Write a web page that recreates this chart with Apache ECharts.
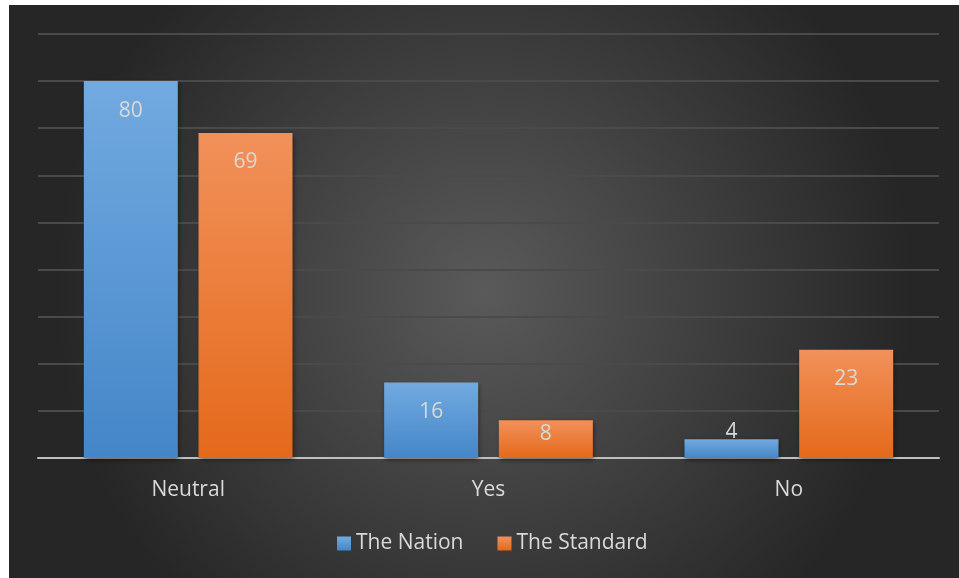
<!DOCTYPE html>
<html>
<head>
<meta charset="utf-8">
<script src="https://cdn.jsdelivr.net/npm/echarts@6/dist/echarts.min.js"></script>
<style>
html,body{margin:0;padding:0;background:#ffffff;width:959px;height:578px;overflow:hidden;}
#chart{position:absolute;left:9px;top:5px;width:950px;height:573px;}
</style>
</head>
<body>
<div id="chart"></div>
<script>
const categories = ['Neutral', 'Yes', 'No'];
const seriesNames = ['The Nation', 'The Standard'];
const nationValues = [80, 16, 4];
const standardValues = [69, 8, 23];

const chart = echarts.init(document.getElementById('chart'));
const fontFam = '"Open Sans", "Noto Sans", sans-serif';

function grad(top, bottom) {
  return new echarts.graphic.LinearGradient(0, 0, 0, 1, [
    {offset: 0, color: top}, {offset: 1, color: bottom}
  ]);
}

function labelFor(values) {
  return values.map(v => {
    let lab = {};
    if (v < 6) lab = {position: 'top', distance: -3};
    else if (v < 12) lab = {position: 'insideTop', distance: 3};
    return {value: v, label: lab};
  });
}

const barCommon = {
  type: 'bar',
  barWidth: '31.3%',
  barGap: '22%',
  label: {
    show: true,
    position: 'insideTop',
    distance: 19,
    color: '#d9d9d9',
    fontSize: 21,
    fontFamily: fontFam
  }
};

chart.setOption({
  backgroundColor: new echarts.graphic.RadialGradient(0.5, 0.5, 0.75, [
    {offset: 0, color: '#5a5a5a'},
    {offset: 1, color: '#262626'}
  ]),
  animation: false,
  grid: {left: 29, right: 20, top: 29, bottom: 120, containLabel: false},
  legend: {
    bottom: 19,
    left: 323,
    icon: 'rect',
    itemWidth: 14,
    itemHeight: 14,
    itemGap: 34,
    textStyle: {color: '#d9d9d9', fontSize: 21, fontFamily: fontFam},
    data: seriesNames
  },
  xAxis: {
    type: 'category',
    data: categories,
    axisLine: {lineStyle: {color: '#bfbfbf', width: 2}},
    axisTick: {show: false},
    axisLabel: {color: '#d9d9d9', fontSize: 21, fontFamily: fontFam, margin: 22}
  },
  yAxis: {
    type: 'value',
    min: 0, max: 90, interval: 10,
    axisLabel: {show: false},
    axisLine: {show: false},
    axisTick: {show: false},
    splitLine: {lineStyle: {color: '#4a4a4a', width: 2}}
  },
  series: [
    Object.assign({}, barCommon, {
      name: seriesNames[0],
      data: labelFor(nationValues),
      itemStyle: {
        color: grad('#72aae0', '#4486c8'),
        shadowBlur: 5, shadowColor: 'rgba(0,0,0,0.5)', shadowOffsetX: 1, shadowOffsetY: 2
      }
    }),
    Object.assign({}, barCommon, {
      name: seriesNames[1],
      data: labelFor(standardValues),
      itemStyle: {
        color: grad('#f1915a', '#e4691a'),
        shadowBlur: 5, shadowColor: 'rgba(0,0,0,0.5)', shadowOffsetX: 1, shadowOffsetY: 2
      }
    })
  ]
});
</script>
</body>
</html>
